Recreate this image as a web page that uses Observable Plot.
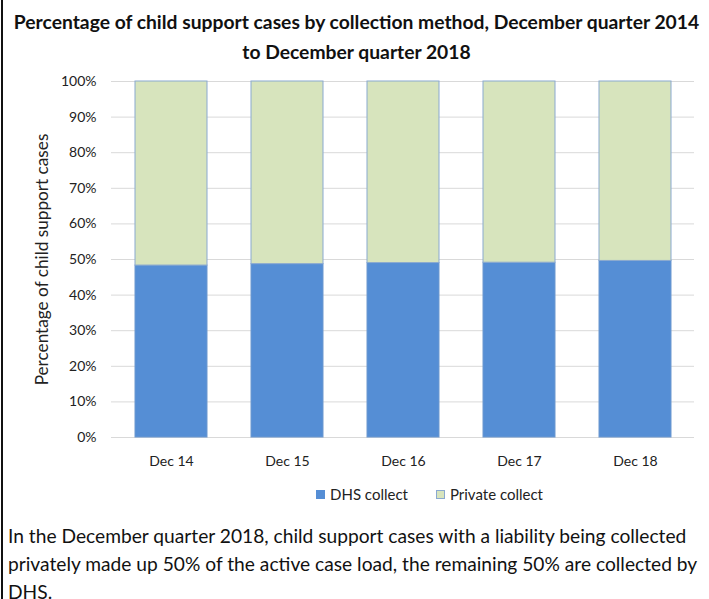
<!DOCTYPE html>
<html>
<head>
<meta charset="utf-8">
<script src="https://cdn.jsdelivr.net/npm/d3@7"></script>
<script src="https://cdn.jsdelivr.net/npm/@observablehq/plot@0.6"></script>
<style>
  html, body { margin: 0; padding: 0; background: #fff; }
  body { width: 709px; height: 599px; overflow: hidden; position: relative; font-family: Lato, "Open Sans", sans-serif; color: #000; }
  #frame { position: absolute; left: 1px; top: 0; width: 2px; height: 599px; background: #111; }
  #title { position: absolute; left: 4px; top: 7px; width: 705px; text-align: center; font-weight: bold; font-size: 19.3px; line-height: 30px; color: #111; white-space: nowrap; }
  #chart { position: absolute; left: 0; top: 64px; }
  #legend { position: absolute; left: 0; top: 485px; width: 709px; display: flex; justify-content: center; font-size: 15px; color: #222; padding-left: 150px; box-sizing: border-box; }
  .item { display: flex; align-items: center; margin: 0 14px; }
  .sw { width: 9px; height: 9px; margin-right: 5px; box-sizing: border-box; }
  #caption { position: absolute; left: 8px; top: 522px; width: 705px; font-size: 19.2px; line-height: 28px; color: #111; }
</style>
</head>
<body>
<div id="frame"></div>
<div id="title">Percentage of child support cases by collection method, December quarter 2014<br>to December quarter 2018</div>
<div id="chart"></div>
<div id="legend"></div>
<div id="caption">In the December quarter 2018, child support cases with a liability being collected privately made up 50% of the active case load, the remaining 50% are collected by DHS.</div>
<script>
const categories = ["Dec 14", "Dec 15", "Dec 16", "Dec 17", "Dec 18"];
const seriesNames = ["DHS collect", "Private collect"];
const dhsCollect = [48.3, 48.7, 49.0, 49.1, 49.6];
const privateCollect = [51.7, 51.3, 51.0, 50.9, 50.4];
const yTicks = [0, 10, 20, 30, 40, 50, 60, 70, 80, 90, 100];
const colors = ["#558ed5", "#d7e4bd"];
const strokes = ["#6d98cf", "#8aa9d0"];

const rows = [];
categories.forEach((c, i) => {
  rows.push({category: c, series: seriesNames[0], value: dhsCollect[i]});
  rows.push({category: c, series: seriesNames[1], value: privateCollect[i]});
});

const chart = Plot.plot({
  width: 709,
  height: 411,
  marginLeft: 111,
  marginRight: 15,
  marginTop: 17,
  marginBottom: 38,
  style: {fontFamily: "Lato, sans-serif", fontSize: "14px", color: "#222", background: "transparent"},
  x: {domain: categories, paddingInner: 0.383, paddingOuter: 0.19, label: null},
  y: {domain: [0, 100], ticks: yTicks, label: null},
  color: {domain: seriesNames, range: colors},
  marks: [
    Plot.ruleY(yTicks, {stroke: "#d9d9d9", strokeWidth: 1}),
    Plot.barY(rows, {x: "category", y: "value", fill: "series", stroke: "series", strokeWidth: 1, order: seriesNames}),
    Plot.axisY({ticks: yTicks, tickSize: 0, tickPadding: 15, tickFormat: d => d + "%", fontSize: 14, label: null}),
    Plot.axisX({tickSize: 0, tickPadding: 19, fontSize: 14, label: null}),
    Plot.text(["Percentage of child support cases"], {frameAnchor: "left", dx: -69, rotate: -90, fontSize: 17.2, fill: "#222", textAnchor: "middle"})
  ]
});
chart.querySelectorAll("g[aria-label='bar'] rect").forEach(r => {
  const f = r.getAttribute("fill");
  const idx = colors.indexOf(f);
  if (idx >= 0) r.setAttribute("stroke", strokes[idx]);
});
document.getElementById("chart").appendChild(chart);

const legend = document.getElementById("legend");
seriesNames.forEach((s, i) => {
  const item = document.createElement("div");
  item.className = "item";
  const sw = document.createElement("div");
  sw.className = "sw";
  sw.style.background = colors[i];
  sw.style.border = i === 1 ? "1px solid " + strokes[i] : "none";
  item.appendChild(sw);
  const t = document.createElement("span");
  t.textContent = s;
  item.appendChild(t);
  legend.appendChild(item);
});
</script>
</body>
</html>
